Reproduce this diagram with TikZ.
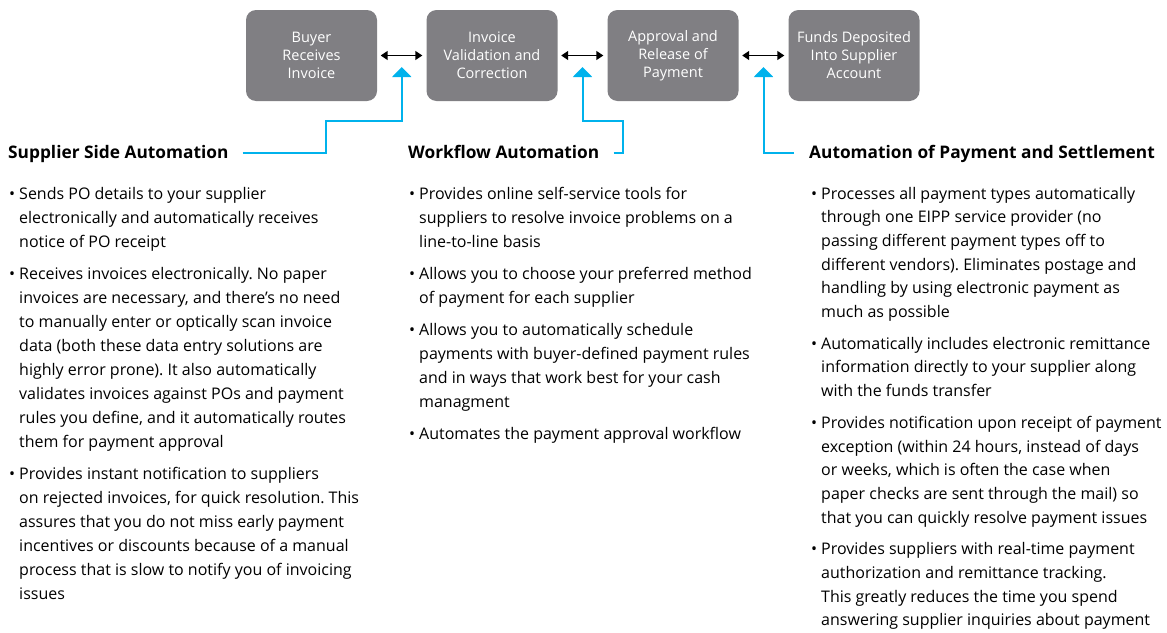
\documentclass[tikz,border=0pt]{standalone}
\usepackage{fontspec}
\setmainfont{Open Sans}
\usetikzlibrary{arrows.meta,calc}
\definecolor{boxgray}{RGB}{128,127,131}
\definecolor{linkblue}{RGB}{0,178,236}
\newcommand{\bodyfont}{\fontsize{16}{24}\selectfont}
\newcommand{\pt}{\textbullet &}
\frenchspacing

\begin{document}
\begin{tikzpicture}[x=1pt,y=-1pt,
  stage/.style={fill=boxgray,rounded corners=10pt,minimum width=131pt,minimum height=91pt,
    inner sep=2pt,text=white,align=center,font=\fontsize{14.5}{18}\selectfont},
  heading/.style={anchor=base west,inner sep=0pt,font=\bfseries\fontsize{17.3}{20}\selectfont},
  points/.style={anchor=base west,inner sep=0pt,font=\bodyfont},
  swap/.style={{Triangle[length=7pt,width=9pt]}-{Triangle[length=7pt,width=9pt]},
    line width=1.5pt,shorten <=3.5pt,shorten >=4pt},
  link/.style={linkblue,line width=2pt,-{Triangle[length=10pt,width=19pt]}}]
\useasboundingbox (0,0) rectangle (1167,632);
\clip (0,0) rectangle (1167,632);

% process steps
\node[stage] (b1) at (311.5,55.5) {Buyer\\Receives\\Invoice};
\node[stage] (b2) at (492,55.5) {Invoice\\Validation and\\Correction};
\node[stage] (b3) at (673,55.5) {Approval and\\Release of\\Payment};
\node[stage] (b4) at (854,55.5) {Funds Deposited\\Into Supplier\\Account};

\draw[swap] (b1) -- (b2);
\draw[swap] (b2) -- (b3);
\draw[swap] (b3) -- (b4);

\coordinate (t12) at ($(b1.east)!.5!(b2.west)+(0,11.5)$);
\coordinate (t23) at ($(b2.east)!.5!(b3.west)+(0,11.5)$);
\coordinate (t34) at ($(b3.east)!.5!(b4.west)+(0,11.5)$);

% headings
\node[heading] (hsup) at (8,158.5) {Supplier Side Automation};
\node[heading] (hwork) at (408,158.5) {Workflow Automation};
\node[heading] (hpay) at (809,158.5) {Automation of Payment and Settlement};

\draw[link] ([xshift=14pt,yshift=5.5pt]hsup.base east) -| (326,121) -| (t12);
\draw[link] ([xshift=14pt,yshift=5.5pt]hwork.base east) -| (623,121) -| (t23);
\draw[link] ([xshift=-15pt,yshift=5.5pt]hpay.base west) -| (t34);

% bullet lists
\node[points] (lsup) at (9,199) {\begin{tabular}[t]{@{}l@{\hspace{4pt}}l@{}}
\pt Sends PO details to your supplier\\
 & electronically and automatically receives\\
 & notice of PO receipt\\[8pt]
\pt Receives invoices electronically. No paper\\
 & invoices are necessary, and there’s no need\\
 & to manually enter or optically scan invoice\\
 & data (both these data entry solutions are\\
 & highly error prone). It also automatically\\
 & validates invoices against POs and payment\\
 & rules you define, and it automatically routes\\
 & them for payment approval\\[8pt]
\pt Provides instant notification to suppliers\\
 & on rejected invoices, for quick resolution. This\\
 & assures that you do not miss early payment\\
 & incentives or discounts because of a manual\\
 & process that is slow to notify you of invoicing\\
 & issues
\end{tabular}};

\node[points] (lwork) at (409,199) {\begin{tabular}[t]{@{}l@{\hspace{4pt}}l@{}}
\pt Provides online self-service tools for\\
 & suppliers to resolve invoice problems on a\\
 & line-to-line basis\\[8pt]
\pt Allows you to choose your preferred method\\
 & of payment for each supplier\\[8pt]
\pt Allows you to automatically schedule\\
 & payments with buyer-defined payment rules\\
 & and in ways that work best for your cash\\
 & managment\\[8pt]
\pt Automates the payment approval workflow
\end{tabular}};

\node[points,font=\fontsize{16}{23.7}\selectfont] (lpay) at (811,199) {\begin{tabular}[t]{@{}l@{\hspace{4pt}}l@{}}
\pt Processes all payment types automatically\\
 & through one EIPP service provider (no\\
 & passing different payment types off to\\
 & different vendors). Eliminates postage and\\
 & handling by using electronic payment as\\
 & much as possible\\[8pt]
\pt Automatically includes electronic remittance\\
 & information directly to your supplier along\\
 & with the funds transfer\\[8pt]
\pt Provides notification upon receipt of payment\\
 & exception (within 24 hours, instead of days\\
 & or weeks, which is often the case when\\
 & paper checks are sent through the mail) so\\
 & that you can quickly resolve payment issues\\[8pt]
\pt Provides suppliers with real-time payment\\
 & authorization and remittance tracking.\\
 & This greatly reduces the time you spend\\
 & answering supplier inquiries about payment
\end{tabular}};
\end{tikzpicture}
\end{document}
